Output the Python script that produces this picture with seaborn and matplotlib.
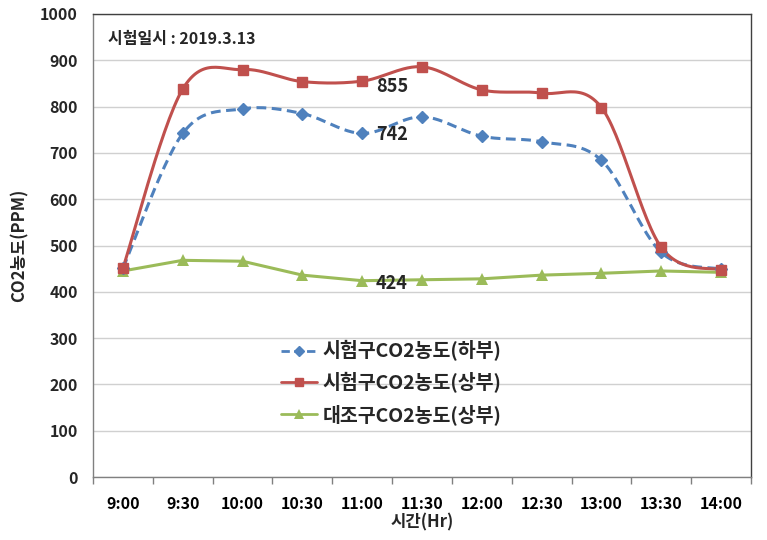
import numpy as np
import pandas as pd
import matplotlib
matplotlib.use("Agg")
import matplotlib.pyplot as plt
from matplotlib.lines import Line2D
import seaborn as sns

times = ["9:00", "9:30", "10:00", "10:30", "11:00", "11:30", "12:00", "12:30", "13:00", "13:30", "14:00"]
lower_co2 = [451, 742, 795, 785, 742, 778, 736, 724, 684, 485, 449]
upper_co2 = [451, 838, 880, 854, 855, 886, 836, 829, 798, 496, 447]
control_co2 = [445, 468, 466, 436, 424, 426, 428, 436, 440, 445, 442]
series_names = ["시험구CO2농도(하부)", "시험구CO2농도(상부)", "대조구CO2농도(상부)"]
y_ticks = [0, 100, 200, 300, 400, 500, 600, 700, 800, 900, 1000]

sns.set_theme(style="white")
plt.rcParams['font.family'] = ['Noto Sans CJK KR', 'DejaVu Sans']

def smooth(xs, ys, n=30):
    x = np.asarray(xs, float); y = np.asarray(ys, float)
    px = np.concatenate([[x[0]], x, [x[-1]]]); py = np.concatenate([[y[0]], y, [y[-1]]])
    out_x, out_y = [], []
    t = np.linspace(0, 1, n)
    for i in range(len(x) - 1):
        p0 = np.array([x[i], y[i]]); p3 = np.array([x[i + 1], y[i + 1]])
        p1 = p0 + (np.array([px[i + 2], py[i + 2]]) - np.array([px[i], py[i]])) / 6
        p2 = p3 - (np.array([px[i + 3], py[i + 3]]) - np.array([px[i + 1], py[i + 1]])) / 6
        b = ((1 - t) ** 3)[:, None] * p0 + (3 * (1 - t) ** 2 * t)[:, None] * p1 + \
            (3 * (1 - t) * t ** 2)[:, None] * p2 + (t ** 3)[:, None] * p3
        out_x.extend(b[:, 0]); out_y.extend(b[:, 1])
    return np.array(out_x), np.array(out_y)

blue, red, green = "#4F81BD", "#C0504D", "#9BBB59"
pos = np.arange(len(times))

fig = plt.figure(figsize=(7.67, 5.4), dpi=100)
ax = fig.add_axes([93 / 767, 1 - 477 / 540, (751 - 93) / 767, (477 - 14) / 540])

ax.yaxis.grid(True, color="#D0D0D0", linewidth=1.0)
ax.set_axisbelow(True)

# lower (blue, dashed, smooth)
sx, sy = smooth(pos, lower_co2)
sns.lineplot(x=sx, y=sy, ax=ax, sort=False, estimator=None, color=blue, linewidth=2.2,
             linestyle=(0, (3.2, 1.8)), zorder=3)
ax.plot(pos, lower_co2, linestyle="none", marker="D", markersize=6, color=blue, zorder=4)

# upper (red, smooth)
sx, sy = smooth(pos, upper_co2)
sns.lineplot(x=sx, y=sy, ax=ax, sort=False, estimator=None, color=red, linewidth=2.2, zorder=3)
ax.plot(pos, upper_co2, linestyle="none", marker="s", markersize=7.5, color=red, zorder=4)

# control (green, straight)
sns.lineplot(x=pos, y=control_co2, ax=ax, sort=False, estimator=None, color=green, linewidth=2.2,
             marker="^", markersize=8, markeredgewidth=0, zorder=3)

ax.set_xlim(-0.5, len(times) - 0.5)
ax.set_ylim(0, 1000)
ax.set_yticks(y_ticks)
ax.set_yticklabels([str(v) for v in y_ticks], fontsize=11.5, fontweight="bold")
ax.set_xticks(pos)
ax.set_xticklabels(times, fontsize=11.5, fontweight="bold")
ax.set_xticks(np.arange(-0.5, len(times), 1), minor=True)
ax.tick_params(axis="x", which="major", length=0, pad=14, colors="black")
ax.tick_params(axis="x", which="minor", length=5, width=1, color="#808080", direction="out")
ax.tick_params(axis="y", which="major", length=5, width=1, color="#808080", direction="out", pad=6)
ax.tick_params(axis="x", which="minor", bottom=True)

for side in ["left", "bottom"]:
    ax.spines[side].set_color("#808080")
    ax.spines[side].set_linewidth(1.0)
for side in ["top", "right"]:
    ax.spines[side].set_color("#404040")
    ax.spines[side].set_linewidth(1.0)

ax.set_ylabel("CO2농도(PPM)", fontsize=12, fontweight="bold", labelpad=8)
ax.set_xlabel("시간(Hr)", fontsize=12, fontweight="bold", labelpad=1)

ax.text(0.023, 0.947, "시험일시 : 2019.3.13", transform=ax.transAxes, fontsize=11.5,
        fontweight="bold", ha="left", va="center")

ax.annotate(str(upper_co2[4]), (pos[4], upper_co2[4]), xytext=(10, -4), textcoords="offset points",
            fontsize=13, fontweight="bold", ha="left", va="center", zorder=5)
ax.annotate(str(lower_co2[4]), (pos[4], lower_co2[4]), xytext=(10, -1), textcoords="offset points",
            fontsize=13, fontweight="bold", ha="left", va="center", zorder=5)
ax.annotate(str(control_co2[4]), (pos[4], control_co2[4]), xytext=(10, -2), textcoords="offset points",
            fontsize=13, fontweight="bold", ha="left", va="center", zorder=5)

handles = [
    Line2D([], [], color=blue, linewidth=2.0, linestyle=(0, (3.0, 1.6)), marker="D", markersize=5),
    Line2D([], [], color=red, linewidth=2.0, marker="s", markersize=6),
    Line2D([], [], color=green, linewidth=2.0, marker="^", markersize=6.5, markeredgewidth=0),
]
leg = ax.legend(handles, series_names, loc="upper left", bbox_to_anchor=(0.285, 0.295),
                frameon=False, fontsize=14, handlelength=1.9, handletextpad=0.25,
                labelspacing=0.55, borderaxespad=0, borderpad=0)
for t in leg.get_texts():
    t.set_fontweight("bold")

fig.savefig("out.png", dpi=100)
